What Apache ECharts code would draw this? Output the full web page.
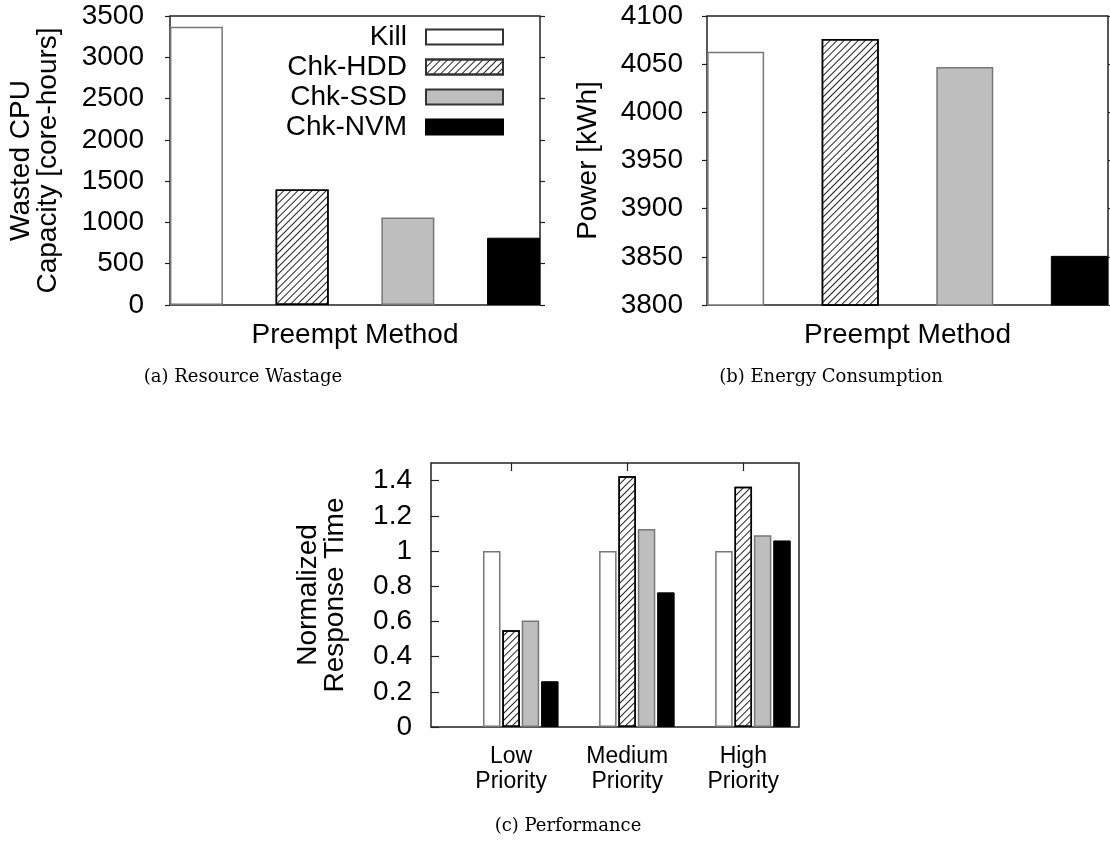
<!DOCTYPE html>
<html>
<head>
<meta charset="utf-8">
<script src="https://cdn.jsdelivr.net/npm/echarts@6/dist/echarts.min.js"></script>
<style>
  html, body { margin: 0; padding: 0; background: #fff; }
  #chart { width: 1110px; height: 844px; }
</style>
</head>
<body>
<div id="chart"></div>
<script>
// data
const methods = ['Kill', 'Chk-HDD', 'Chk-SSD', 'Chk-NVM'];
const wastedCpu = [3370, 1400, 1060, 815];       // core-hours
const powerKwh = [4063, 4076, 4047, 3851];       // kWh
const priorities = ['Low\nPriority', 'Medium\nPriority', 'High\nPriority'];
const respKill = [1.0, 1.0, 1.0];
const respHdd = [0.55, 1.425, 1.365];
const respSsd = [0.605, 1.125, 1.09];
const respNvm = [0.26, 0.765, 1.06];
const captions = ['(a) Resource Wastage', '(b) Energy Consumption', '(c) Performance'];

const FONT = 'Liberation Sans';
const hatch = {
  symbol: 'rect', symbolSize: 1,
  dashArrayX: [[1, 0]], dashArrayY: [1, 4],
  rotation: -Math.PI / 4, color: '#222'
};
const styles = [
  { color: '#fff', borderColor: '#777', borderWidth: 1.5 },
  { color: '#fff', borderColor: '#000', borderWidth: 1.5, decal: hatch },
  { color: '#bebebe', borderColor: '#777', borderWidth: 1.5 },
  { color: '#000', borderColor: '#000', borderWidth: 1 }
];

const chart = echarts.init(document.getElementById('chart'));

function valueY(gridIndex, min, max, interval, extra) {
  return Object.assign({
    type: 'value', gridIndex, min, max, interval,
    axisLine: { show: false, onZero: false },
    splitLine: { show: false },
    axisTick: { show: true, inside: false, length: 5, lineStyle: { color: '#222', width: 1.2 } },
    axisLabel: { fontSize: 28, fontFamily: FONT, color: '#000', margin: 26, formatter: v => String(v) }
  }, extra);
}

const respAll = [respKill, respHdd, respSsd, respNvm];
const offsets = [-1, 0, 1, 2].map(k => k / 6);

let series = [];
methods.forEach((m, j) => {
  series.push({
    name: m, type: 'bar', xAxisIndex: 0, yAxisIndex: 0,
    barWidth: 53, barGap: '-100%', itemStyle: styles[j],
    data: [[j, wastedCpu[j]]]
  });
});
methods.forEach((m, j) => {
  series.push({
    name: m, type: 'bar', xAxisIndex: 1, yAxisIndex: 2,
    barWidth: 57, barGap: '-100%', itemStyle: styles[j],
    data: [[j, powerKwh[j]]]
  });
});
methods.forEach((m, j) => {
  series.push({
    name: m, type: 'bar', xAxisIndex: 2, yAxisIndex: 4,
    barWidth: 17.5, barGap: '-100%', itemStyle: styles[j],
    data: respAll[j].map((v, g) => [g + offsets[j], v])
  });
});

const nameStyle = { fontSize: 28, fontFamily: FONT, color: '#000' };

const option = {
  animation: false,
  backgroundColor: '#fff',
  textStyle: { fontFamily: FONT },
  grid: [
    { left: 170, top: 16, width: 370, height: 289, show: true, borderColor: '#222', borderWidth: 1.5, backgroundColor: 'transparent' },
    { left: 707, top: 16, width: 401, height: 289, show: true, borderColor: '#222', borderWidth: 1.5, backgroundColor: 'transparent' },
    { left: 431, top: 463, width: 368, height: 264, show: true, borderColor: '#222', borderWidth: 1.5, backgroundColor: 'transparent' }
  ],
  legend: {
    data: methods.map(m => ({ name: m, itemStyle: { borderColor: m === 'Chk-NVM' ? '#000' : '#333' } })),
    orient: 'vertical',
    align: 'right',
    icon: 'rect',
    right: 606, top: 23,
    itemWidth: 77, itemHeight: 15, itemGap: 2,
    padding: 0,
    selectedMode: false,
    textStyle: { fontSize: 28, fontFamily: FONT, color: '#000', padding: [0, 14, 0, 0] }
  },
  xAxis: [
    {
      type: 'value', gridIndex: 0, min: -0.25, max: 3.25,
      axisLine: { show: false, onZero: false }, axisTick: { show: false }, axisLabel: { show: false }, splitLine: { show: false },
      name: 'Preempt Method', nameLocation: 'middle', nameGap: 16, nameTextStyle: nameStyle
    },
    {
      type: 'value', gridIndex: 1, min: -0.25, max: 3.25,
      axisLine: { show: false, onZero: false }, axisTick: { show: false }, axisLabel: { show: false }, splitLine: { show: false },
      name: 'Preempt Method', nameLocation: 'middle', nameGap: 16, nameTextStyle: nameStyle
    },
    {
      type: 'value', gridIndex: 2, min: -0.69, max: 2.48,
      axisLine: { show: false, onZero: false }, axisTick: { show: false }, splitLine: { show: false },
      axisLabel: {
        customValues: [0, 1, 2],
        formatter: v => priorities[Math.round(v)],
        fontSize: 23, lineHeight: 25, fontFamily: FONT, color: '#000', margin: 17
      }
    },
    {
      type: 'value', gridIndex: 2, position: 'top', min: -0.69, max: 2.48,
      axisLine: { show: false, onZero: false }, splitLine: { show: false }, axisLabel: { show: false },
      axisTick: { show: true, inside: true, length: 8, customValues: [0, 1, 2], lineStyle: { color: '#222', width: 1.2 } }
    }
  ],
  yAxis: [
    valueY(0, 0, 3500, 500, {
      name: 'Wasted CPU\nCapacity [core-hours]', nameLocation: 'middle', nameGap: 108,
      nameTextStyle: Object.assign({ lineHeight: 27 }, nameStyle)
    }),
    valueY(0, 0, 3500, 500, { position: 'right', axisLabel: { show: false } }),
    valueY(1, 3800, 4100, 50, {
      axisLabel: { fontSize: 28, fontFamily: FONT, color: '#000', margin: 24, formatter: v => String(v) },
      name: 'Power [kWh]', nameLocation: 'middle', nameGap: 105, nameTextStyle: nameStyle
    }),
    valueY(1, 3800, 4100, 50, { position: 'right', axisLabel: { show: false } }),
    valueY(2, 0, 1.5, 0.2, {
      axisTick: { show: true, inside: true, length: 8, lineStyle: { color: '#222', width: 1.2 } },
      axisLabel: { fontSize: 28, fontFamily: FONT, color: '#000', margin: 19, showMaxLabel: false, formatter: v => String(v) },
      name: 'Normalized\nResponse Time', nameLocation: 'middle', nameGap: 82,
      nameTextStyle: Object.assign({ lineHeight: 27 }, nameStyle)
    })
  ],
  graphic: [
    { type: 'text', x: 243, y: 377, style: { text: captions[0], font: '18px "DejaVu Serif"', align: 'center', verticalAlign: 'middle', fill: '#000' } },
    { type: 'text', x: 831, y: 377, style: { text: captions[1], font: '18px "DejaVu Serif"', align: 'center', verticalAlign: 'middle', fill: '#000' } },
    { type: 'text', x: 568, y: 826, style: { text: captions[2], font: '18px "DejaVu Serif"', align: 'center', verticalAlign: 'middle', fill: '#000' } }
  ],
  series
};

chart.setOption(option);
</script>
</body>
</html>
